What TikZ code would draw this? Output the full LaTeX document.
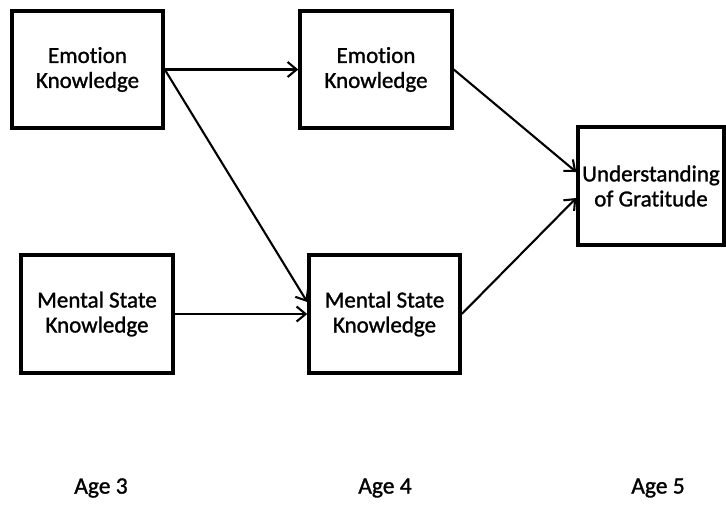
\documentclass[tikz,border=0pt]{standalone}
\usepackage{fontspec}
\setmainfont{Carlito}[Ligatures=NoCommon]
\newfontface\heavyfont{Carlito}[FakeBold=1.2,Ligatures=NoCommon]
\usetikzlibrary{arrows.meta}
\begin{document}
\begin{tikzpicture}[x=1pt,y=-1pt,
  box/.style={draw,line width=3.5pt,minimum width=#1,minimum height=117pt,align=center,inner sep=0pt,
    font=\heavyfont\fontsize{23}{25}\selectfont},
  box/.default=151pt,
  link/.style={line width=2.1pt,-{Straight Barb[length=9pt,width=15pt,line width=2.1pt]}},
  agelabel/.style={font=\heavyfont\fontsize{23.5}{25}\selectfont}]
\useasboundingbox (0,0) rectangle (726,523);
\node[box] (A) at (87.5,69.5) {Emotion\\Knowledge};
\node[box=152pt] (B) at (376,69.5) {Emotion\\Knowledge};
\node[box=146pt,minimum height=118pt] (C) at (651,186) {Understanding\\of Gratitude};
\node[box=152pt,minimum height=118pt] (D) at (97,314) {Mental State\\Knowledge};
\node[box,minimum height=118pt] (E) at (384.5,314) {Mental State\\Knowledge};
\draw[link] (A.east) -- (B.west);
\draw[link] (A.east) -- ([yshift=12pt]E.west);
\draw[link] (D.east) -- (E.west);
\draw[link] (B.east) -- ([yshift=14pt]C.west);
\draw[link] (E.east) -- ([yshift=-12pt]C.west);
\node[agelabel] (age3) at (101,488) {Age 3};
\node[agelabel] (age4) at (385,488) {Age 4};
\node[agelabel] (age5) at (658,488) {Age 5};
\end{tikzpicture}
\end{document}
